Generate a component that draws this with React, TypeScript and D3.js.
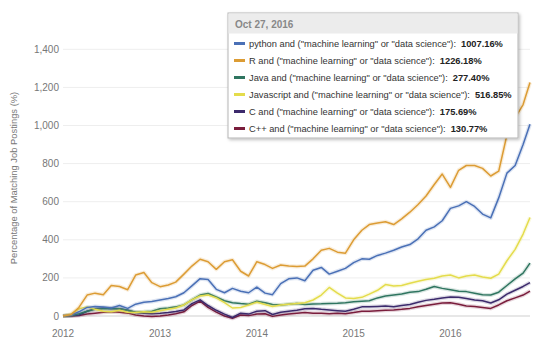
import React from "react";
import * as d3 from "d3";

const W = 537;
const H = 352;

const yTicks = [0, 200, 400, 600, 800, 1000, 1200, 1400];
const xTickYears = [2012, 2013, 2014, 2015, 2016];
const startDate = "2012-01-01";
const endDate = "2016-10-27";

const pythonVals = [0, 5, 22, 45, 50, 47, 42, 55, 40, 62, 72, 76, 84, 92, 101, 122, 158, 196, 192, 140, 122, 145, 130, 122, 152, 120, 112, 170, 195, 200, 185, 240, 255, 220, 235, 250, 280, 300, 298, 318, 330, 345, 362, 375, 405, 450, 468, 500, 565, 578, 600, 575, 535, 515, 620, 750, 790, 900, 1007.16];
const rVals = [0, 8, 45, 110, 120, 112, 160, 155, 138, 215, 228, 175, 154, 163, 178, 220, 262, 298, 285, 245, 285, 295, 235, 210, 285, 270, 250, 268, 262, 260, 262, 300, 345, 355, 335, 330, 400, 450, 480, 488, 495, 480, 510, 545, 585, 630, 690, 745, 675, 765, 790, 790, 775, 735, 760, 950, 1040, 1110, 1226.18];
const javaVals = [0, 3, 12, 25, 35, 38, 40, 38, 30, 20, 22, 25, 38, 42, 48, 58, 85, 110, 118, 100, 80, 70, 65, 62, 78, 70, 60, 58, 62, 66, 60, 63, 64, 66, 67, 70, 75, 78, 80, 95, 105, 110, 115, 125, 128, 140, 155, 145, 138, 130, 128, 120, 112, 110, 125, 160, 195, 225, 277.4];
const jsVals = [0, 10, 38, 48, 35, 25, 22, 30, 20, 18, 22, 20, 28, 35, 42, 58, 85, 105, 110, 95, 70, 42, 45, 58, 72, 60, 50, 58, 62, 66, 70, 84, 110, 150, 120, 95, 92, 98, 115, 135, 165, 158, 160, 172, 182, 192, 198, 210, 215, 200, 210, 215, 205, 198, 220, 290, 350, 430, 516.85];
const cVals = [0, 2, 5, 25, 38, 42, 40, 38, 30, 18, 15, 12, 14, 18, 24, 32, 65, 85, 55, 30, 10, -8, 15, 10, 25, 28, 8, 20, 25, 30, 38, 40, 35, 32, 28, 25, 35, 48, 48, 50, 52, 48, 55, 60, 72, 82, 88, 95, 100, 98, 92, 84, 80, 68, 85, 115, 135, 155, 175.69];
const cppVals = [0, 0, 3, 10, 15, 20, 22, 20, 15, 5, 0, -3, 0, 5, 12, 22, 55, 78, 45, 20, 0, -12, 5, 2, 10, 12, -2, 5, 10, 15, 18, 15, 14, 12, 14, 12, 18, 25, 25, 28, 30, 32, 35, 40, 48, 55, 62, 68, 70, 62, 52, 50, 45, 40, 58, 80, 95, 110, 130.77];

const seriesNames = [
  'python and ("machine learning" or "data science"):',
  'R and ("machine learning" or "data science"):',
  'Java and ("machine learning" or "data science"):',
  'Javascript and ("machine learning" or "data science"):',
  'C and ("machine learning" or "data science"):',
  'C++ and ("machine learning" or "data science"):',
];
const seriesLabels = ["1007.16%", "1226.18%", "277.40%", "516.85%", "175.69%", "130.77%"];
const seriesColors = ["#4a70b6", "#dc9c34", "#2f7560", "#e4dc4c", "#3c2a6c", "#7a1d3c"];
const seriesValues = [pythonVals, rVals, javaVals, jsVals, cVals, cppVals];

const FONT = "'Liberation Sans', Arial, Helvetica, sans-serif";

export default function App() {
  const parse = d3.timeParse("%Y-%m-%d");
  const d0 = parse(startDate) as Date;
  const d1 = parse(endDate) as Date;
  const dates = [...d3.timeMonth.range(d0, d1), d1];

  const x = d3.scaleTime().domain([d0, d1]).range([63, 530]);
  const y = d3.scaleLinear().domain([0, 1400]).range([316, 49.3]);

  const line = d3
    .line<number>()
    .x((_, i) => x(dates[i]))
    .y((v) => y(v))
    .curve(d3.curveLinear);

  const drawOrder = [5, 4, 2, 3, 0, 1];

  return (
    <svg width={W} height={H} style={{ position: "absolute", left: 0, top: 0, background: "#fff" }} fontFamily={FONT}>
      <defs>
        <filter id="shadow" x="-10%" y="-10%" width="130%" height="130%">
          <feDropShadow dx="1.5" dy="1.5" stdDeviation="1.5" floodColor="#000" floodOpacity="0.25" />
        </filter>
      </defs>
      {yTicks.map((t) => (
        <g key={t}>
          <line x1={63} x2={530} y1={y(t)} y2={y(t)} stroke={t === 0 ? "#cfcfcf" : "#eeeeee"} strokeWidth={1} />
          <text x={59} y={y(t) + 3.5} textAnchor="end" fontSize={10} fill="#777">
            {d3.format(",")(t)}
          </text>
        </g>
      ))}
      {xTickYears.map((yr) => (
        <text key={yr} x={x(new Date(yr, 0, 1))} y={337} textAnchor="middle" fontSize={10} fill="#777">
          {yr}
        </text>
      ))}
      <text transform="translate(17,178) rotate(-90)" textAnchor="middle" fontSize={9.4} fill="#777">
        Percentage of Matching Job Postings (%)
      </text>
      {drawOrder.map((si) => (
        <g key={si}>
          <path d={line(seriesValues[si]) || ""} fill="none" stroke={seriesColors[si]} strokeOpacity={0.18} strokeWidth={4} strokeLinejoin="round" />
          <path d={line(seriesValues[si]) || ""} fill="none" stroke={seriesColors[si]} strokeWidth={1.5} strokeLinejoin="round" />
        </g>
      ))}
      <g filter="url(#shadow)">
        <rect x={228} y={13} width={290} height={125} fill="#fff" stroke="#b5b5b5" strokeWidth={1} />
      </g>
      <rect x={228.5} y={13.5} width={289} height={20} fill="#ececec" />
      <text x={235} y={27.5} fontSize={10} fontWeight="bold" fill="#888">
        Oct 27, 2016
      </text>
      {seriesNames.map((name, i) => {
        const yy = 47 + i * 17;
        return (
          <g key={name}>
            <line x1={234} x2={245} y1={yy - 3.5} y2={yy - 3.5} stroke={seriesColors[i]} strokeWidth={3} />
            <text x={249} y={yy} fontSize={9.3} fill="#333">
              {name}
              <tspan dx={5} fontWeight="bold" fill="#222">
                {seriesLabels[i]}
              </tspan>
            </text>
          </g>
        );
      })}
    </svg>
  );
}
